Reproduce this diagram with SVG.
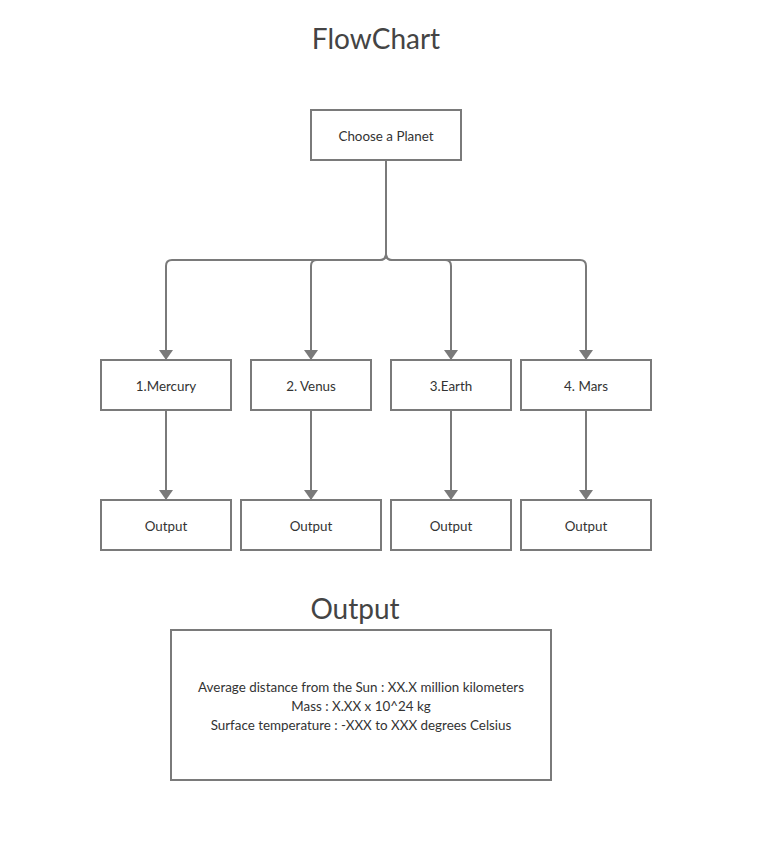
<svg xmlns="http://www.w3.org/2000/svg" width="762" height="841" viewBox="0 0 762 841">
  <defs>
    <style>
      .box { fill: #ffffff; stroke: #7a7a7a; stroke-width: 2; }
      .lbl { font-family: Lato, "Liberation Sans", sans-serif; font-size: 13.4px; fill: #333333; text-anchor: middle; }
      .ttl { font-family: Lato, "Liberation Sans", sans-serif; font-size: 28px; fill: #444444; text-anchor: middle; }
      .wire { fill: none; stroke: #7a7a7a; stroke-width: 2; }
    </style>
    <marker id="arrow" viewBox="0 0 10 14" refX="10" refY="7" markerWidth="10" markerHeight="14" markerUnits="userSpaceOnUse" orient="auto">
      <path d="M0,0 L10,7 L0,14 Z" fill="#7a7a7a"/>
    </marker>
  </defs>
  <rect width="762" height="841" fill="#ffffff"/>

  <text class="ttl" x="376" y="49">FlowChart</text>

  <g id="connectors">
    <path class="wire" marker-end="url(#arrow)" d="M386,160 V254 Q386,260 380,260 H172 Q166,260 166,266 V360"/>
    <path class="wire" marker-end="url(#arrow)" d="M386,160 V254 Q386,260 380,260 H317 Q311,260 311,266 V360"/>
    <path class="wire" marker-end="url(#arrow)" d="M386,160 V254 Q386,260 392,260 H445 Q451,260 451,266 V360"/>
    <path class="wire" marker-end="url(#arrow)" d="M386,160 V254 Q386,260 392,260 H580 Q586,260 586,266 V360"/>
    <path class="wire" marker-end="url(#arrow)" d="M166,410 V500"/>
    <path class="wire" marker-end="url(#arrow)" d="M311,410 V500"/>
    <path class="wire" marker-end="url(#arrow)" d="M451,410 V500"/>
    <path class="wire" marker-end="url(#arrow)" d="M586,410 V500"/>
  </g>

  <g id="choose">
    <rect class="box" x="311" y="110" width="150" height="50"/>
    <text class="lbl" x="386" y="141">Choose a Planet</text>
  </g>

  <g id="mercury">
    <rect class="box" x="101" y="360" width="130" height="50"/>
    <text class="lbl" x="166" y="391">1.Mercury</text>
  </g>
  <g id="venus">
    <rect class="box" x="251" y="360" width="120" height="50"/>
    <text class="lbl" x="311" y="391">2. Venus</text>
  </g>
  <g id="earth">
    <rect class="box" x="391" y="360" width="120" height="50"/>
    <text class="lbl" x="451" y="391">3.Earth</text>
  </g>
  <g id="mars">
    <rect class="box" x="521" y="360" width="130" height="50"/>
    <text class="lbl" x="586" y="391">4. Mars</text>
  </g>

  <g id="output1">
    <rect class="box" x="101" y="500" width="130" height="50"/>
    <text class="lbl" x="166" y="531">Output</text>
  </g>
  <g id="output2">
    <rect class="box" x="241" y="500" width="140" height="50"/>
    <text class="lbl" x="311" y="531">Output</text>
  </g>
  <g id="output3">
    <rect class="box" x="391" y="500" width="120" height="50"/>
    <text class="lbl" x="451" y="531">Output</text>
  </g>
  <g id="output4">
    <rect class="box" x="521" y="500" width="130" height="50"/>
    <text class="lbl" x="586" y="531">Output</text>
  </g>

  <text class="ttl" x="355" y="619">Output</text>

  <g id="output-detail">
    <rect class="box" x="171" y="630" width="380" height="150"/>
    <text class="lbl" x="361" y="692">Average distance from the Sun : XX.X million kilometers</text>
    <text class="lbl" x="361" y="711">Mass : X.XX x 10^24 kg</text>
    <text class="lbl" x="361" y="730">Surface temperature : -XXX to XXX degrees Celsius</text>
  </g>
</svg>
